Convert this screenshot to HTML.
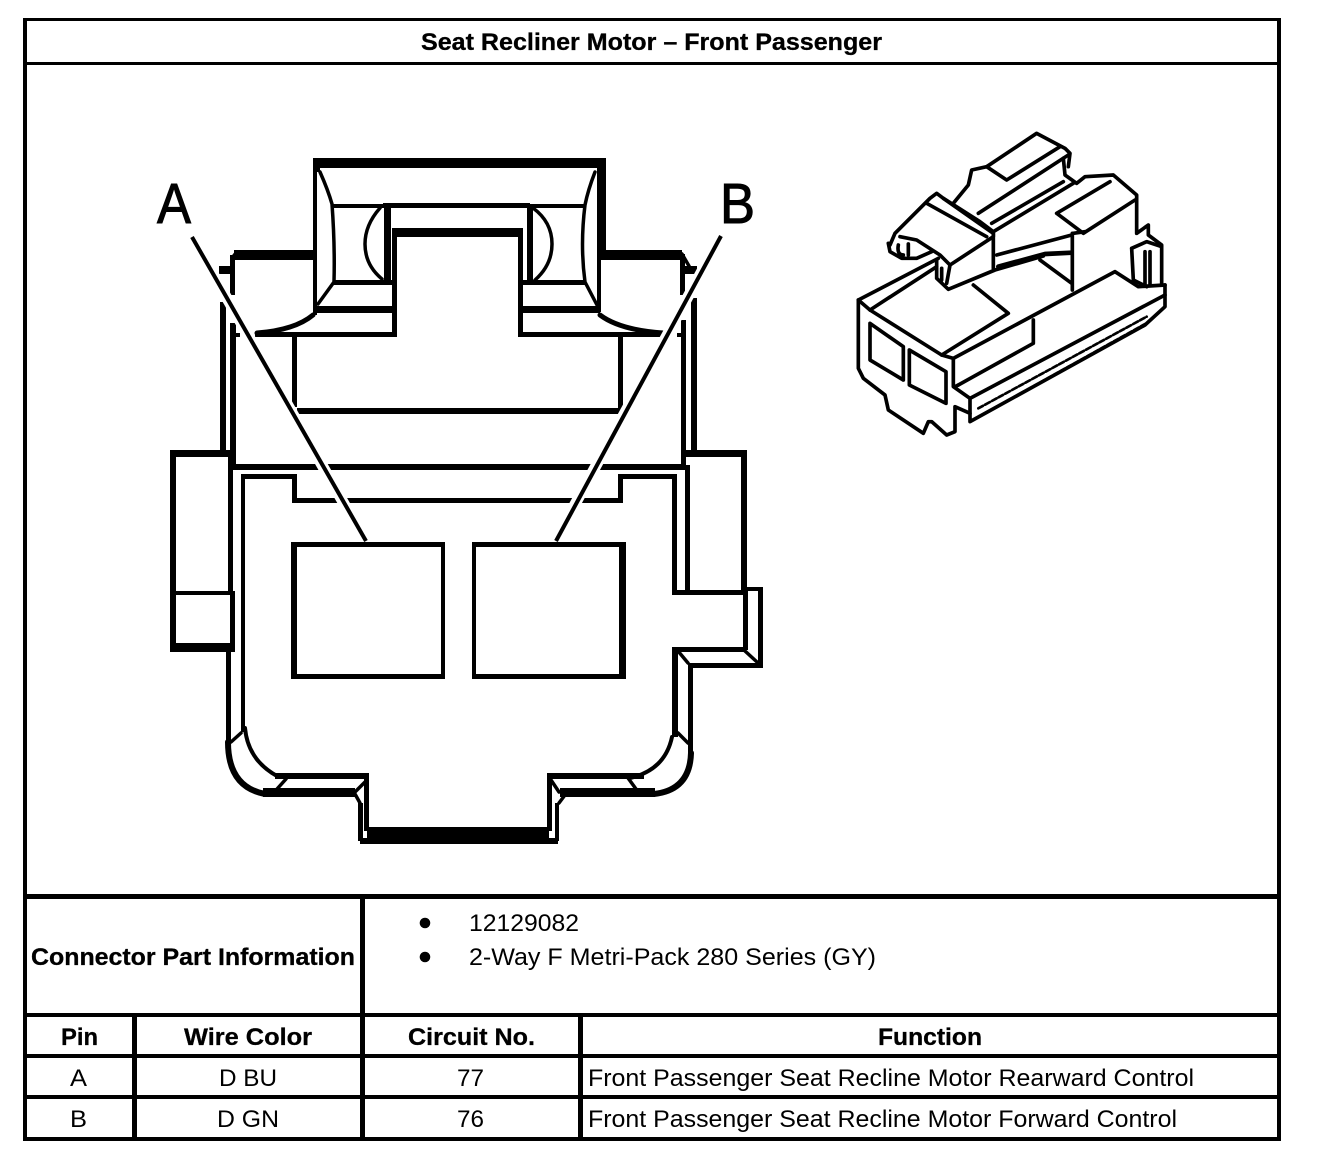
<!DOCTYPE html>
<html><head><meta charset="utf-8"><style>
html,body{margin:0;padding:0;background:#fff}
svg{display:block}
text{font-family:"Liberation Sans",Arial,sans-serif;fill:#000}
.b{font-weight:bold;stroke:#000;stroke-width:.3}
.t{font-size:24px}
</style></head><body>
<svg width="1328" height="1154" viewBox="0 0 1328 1154" xmlns="http://www.w3.org/2000/svg">
<rect width="1328" height="1154" fill="#fff"/>
<g fill="#000" shape-rendering="crispEdges">
<!-- frame -->
<rect x="23" y="18" width="1258" height="3"/>
<rect x="23" y="18" width="4" height="1123"/>
<rect x="1277" y="18" width="4" height="1123"/>
<rect x="23" y="62" width="1258" height="3"/>
<rect x="23" y="894" width="1258" height="5"/>
<rect x="23" y="1013" width="1258" height="4"/>
<rect x="23" y="1054" width="1258" height="4"/>
<rect x="23" y="1095" width="1258" height="4"/>
<rect x="23" y="1137" width="1258" height="4"/>
<rect x="360" y="894" width="5" height="247"/>
<rect x="132" y="1013" width="5" height="128"/>
<rect x="578" y="1013" width="5" height="128"/>
<!-- main connector rects -->
<rect x="313" y="158" width="293" height="10"/>
<rect x="313" y="158" width="7" height="14"/>
<rect x="313" y="158" width="4" height="157"/>
<rect x="597" y="158" width="9" height="92"/>
<rect x="597" y="250" width="4" height="62"/>
<rect x="383" y="203" width="147" height="4"/>
<rect x="332" y="204" width="253" height="4"/>
<rect x="384" y="205" width="7" height="75"/>
<rect x="527" y="205" width="6" height="75"/>
<rect x="393" y="228" width="129" height="9"/>
<rect x="392" y="228" width="5" height="109"/>
<rect x="518" y="228" width="5" height="109"/>
<rect x="333" y="280" width="60" height="5"/>
<rect x="523" y="280" width="62" height="5"/>
<rect x="317" y="306" width="78" height="7"/>
<rect x="523" y="306" width="77" height="7"/>
<rect x="255" y="332" width="140" height="5"/>
<rect x="518" y="332" width="145" height="5"/>
<rect x="292" y="337" width="5" height="70"/>
<rect x="618" y="337" width="5" height="71"/>
<rect x="297" y="408" width="325" height="6"/>
<rect x="234" y="250" width="79" height="10"/>
<rect x="230" y="255" width="5" height="40"/>
<rect x="600" y="250" width="82" height="10"/>
<rect x="680" y="254" width="5" height="41"/>
<rect x="219" y="266" width="12" height="8"/>
<rect x="684" y="266" width="13" height="8"/>
<rect x="220" y="302" width="6" height="148"/>
<rect x="691" y="298" width="6" height="152"/>
<rect x="230" y="323" width="6" height="145"/>
<rect x="230" y="333" width="10" height="4"/>
<rect x="681" y="320" width="5" height="150"/>
<rect x="677" y="333" width="6" height="4"/>
<rect x="170" y="450" width="60" height="7"/>
<rect x="170" y="450" width="6" height="202"/>
<rect x="684" y="450" width="63" height="7"/>
<rect x="741" y="450" width="6" height="142"/>
<rect x="228" y="450" width="5" height="142"/>
<rect x="232" y="464" width="452" height="6"/>
<rect x="241" y="474" width="52" height="5"/>
<rect x="241" y="474" width="4" height="258"/>
<rect x="292" y="474" width="5" height="28"/>
<rect x="292" y="498" width="331" height="5"/>
<rect x="618" y="474" width="5" height="28"/>
<rect x="623" y="474" width="54" height="5"/>
<rect x="672" y="474" width="5" height="120"/>
<rect x="685" y="465" width="5" height="129"/>
<rect x="170" y="591" width="65" height="4"/>
<rect x="230" y="592" width="5" height="58"/>
<rect x="170" y="643" width="65" height="9"/>
<rect x="226" y="650" width="5" height="92"/>
<rect x="672" y="590" width="72" height="5"/>
<rect x="741" y="587" width="22" height="4"/>
<rect x="758" y="587" width="5" height="81"/>
<rect x="743" y="590" width="5" height="60"/>
<rect x="672" y="647" width="73" height="5"/>
<rect x="688" y="663" width="75" height="5"/>
<rect x="672" y="647" width="6" height="90"/>
<rect x="688" y="663" width="5" height="92"/>
<rect x="275" y="773" width="94" height="6"/>
<rect x="547" y="773" width="97" height="6"/>
<rect x="263" y="788" width="92" height="9"/>
<rect x="560" y="788" width="95" height="9"/>
<rect x="364" y="773" width="5" height="58"/>
<rect x="547" y="773" width="5" height="58"/>
<rect x="358" y="803" width="5" height="38"/>
<rect x="555" y="803" width="4" height="38"/>
<rect x="367" y="827" width="182" height="17"/>
<rect x="360" y="838" width="198" height="6"/>
<!-- terminals -->
<rect x="291" y="542" width="154" height="5"/>
<rect x="291" y="674" width="154" height="5"/>
<rect x="291" y="542" width="6" height="137"/>
<rect x="441" y="542" width="4" height="137"/>
<rect x="472" y="542" width="154" height="5"/>
<rect x="472" y="674" width="154" height="5"/>
<rect x="472" y="542" width="4" height="137"/>
<rect x="619" y="542" width="7" height="137"/>
</g>
<g fill="none" stroke="#000" stroke-width="3.5" stroke-linejoin="round" stroke-linecap="round">
<path d="M320 172 Q328 190 332 204 Q335 245 334 282 L318 304"/>
<path d="M595 172 Q588 190 585 205 Q580 245 585 282 L597 305"/>
<path d="M380 208 Q365 225 365 244 Q365 265 382 279"/>
<path d="M533 208 Q552 222 552 244 Q552 265 535 280"/>
<path d="M313 315 Q295 330 257 333" stroke-width="5"/>
<path d="M600 315 Q620 330 663 333" stroke-width="5"/>
<path d="M232 258 L236 253 M682 254 L689 266"/>
<path d="M241 733 L231 742"/>
<path d="M245 728 Q248 760 277 776" stroke-width="4"/>
<path d="M228 742 Q228 787 265 794" stroke-width="6"/>
<path d="M286 779 L277 789"/>
<path d="M355 792 L365 782 M355 794 L360 803"/>
<path d="M551 780 L559 792 M559 803 L565 795"/>
<path d="M678 733 L688 743"/>
<path d="M672 737 Q665 770 630 778" stroke-width="4"/>
<path d="M691 753 Q690 790 654 794" stroke-width="6"/>
<path d="M628 778 L636 789"/>
<path d="M745 651 L757 662 M678 651 L688 663"/>
</g>
<!-- leaders -->
<path d="M192 237 L359 530" stroke="#fff" stroke-width="11" fill="none"/>
<path d="M721 236 L561 530" stroke="#fff" stroke-width="11" fill="none"/>
<path d="M192 237 L366 541" stroke="#000" stroke-width="4" fill="none"/>
<path d="M721 236 L556 541" stroke="#000" stroke-width="4" fill="none"/>
<!-- iso connector -->
<g transform="translate(840 120) scale(.33333)" fill="none" stroke="#000" stroke-width="11" stroke-linejoin="round" stroke-linecap="round">
<path d="M55 540 L55 745 L70 775 L135 825 L145 870 L250 940 L265 905 L275 905 L320 945 L345 935 L345 860 L390 880 L390 905 L915 615 L975 560 L975 495"/>
<path d="M55 540 L295 415 M90 570 L290 440 M55 540 L90 570"/>
<path d="M90 570 L305 705 L505 580 L400 495"/>
<path d="M305 705 L340 715 L340 800 L390 835 L390 880"/>
<path d="M340 715 L825 455 L895 500 L975 495"/>
<path d="M355 795 L580 670 L580 600"/>
<path d="M390 835 L975 525 M345 800 L355 795"/>
<path d="M415 865 L920 590" stroke-dasharray="16 7" stroke-width="8"/>
<path d="M420 888 L915 612" stroke-dasharray="16 7" stroke-width="8"/>
<path d="M90 610 L190 680 L190 780 L90 720 Z"/>
<path d="M208 690 L318 755 L318 850 L208 795 Z"/>
<path d="M150 375 L165 340 L270 235 L290 220 L310 235 L460 340 L460 350 L330 435"/>
<path d="M260 250 L440 350"/>
<path d="M145 370 L150 395 L185 415 L230 415 L275 395 M180 350 L230 360 L300 405 L330 435"/>
<path d="M175 375 Q170 405 190 405 M205 372 L205 405"/>
<path d="M290 420 L290 475 L325 508 L465 450 L610 408"/>
<path d="M305 445 L305 480 M330 435 L320 490"/>
<path d="M340 250 L385 195 L395 150 L440 140 L590 40 L675 85 L690 100 L685 140"/>
<path d="M440 140 L500 180 L660 80"/>
<path d="M415 280 L685 105"/>
<path d="M455 310 L670 185 M460 335 L700 190 M310 235 L420 305 L460 335"/>
<path d="M670 115 L675 165 L710 190 L735 170 L820 165 L890 225 L890 340 L925 315 L925 345 L965 375 L965 495"/>
<path d="M650 280 L730 340 L885 240 M650 280 L810 185"/>
<path d="M460 335 L460 445 M700 340 L735 335 M697 340 L697 510"/>
<path d="M470 405 L695 345"/>
<path d="M475 440 L615 402 L695 398" stroke-width="14"/>
<path d="M600 420 L695 490"/>
<path d="M875 385 L880 480 L920 500 M875 385 L920 365 L965 380 M915 395 L915 495 M930 395 L930 495"/>
</g>
<!-- bullets -->
<circle cx="425" cy="923" r="5.3"/>
<circle cx="425" cy="957" r="5.3"/>
<!-- diagram letters -->
<text x="157" y="223" font-size="57" textLength="34" lengthAdjust="spacingAndGlyphs" stroke="#000" stroke-width="1">A</text>
<text x="720" y="223" font-size="57" textLength="35" lengthAdjust="spacingAndGlyphs" stroke="#000" stroke-width="1">B</text>
<!-- text -->
<text class="b t" x="421" y="50" textLength="461" lengthAdjust="spacingAndGlyphs">Seat Recliner Motor – Front Passenger</text>
<text class="b t" x="31" y="965" textLength="324" lengthAdjust="spacingAndGlyphs">Connector Part Information</text>
<text class="t" x="469" y="931" textLength="110" lengthAdjust="spacingAndGlyphs">12129082</text>
<text class="t" x="469" y="965" textLength="407" lengthAdjust="spacingAndGlyphs">2-Way F Metri-Pack 280 Series (GY)</text>
<text class="b t" x="61" y="1045" textLength="37" lengthAdjust="spacingAndGlyphs">Pin</text>
<text class="b t" x="184" y="1045" textLength="128" lengthAdjust="spacingAndGlyphs">Wire Color</text>
<text class="b t" x="408" y="1045" textLength="127" lengthAdjust="spacingAndGlyphs">Circuit No.</text>
<text class="b t" x="878" y="1045" textLength="104" lengthAdjust="spacingAndGlyphs">Function</text>
<text class="t" x="70" y="1086" textLength="17" lengthAdjust="spacingAndGlyphs">A</text>
<text class="t" x="219" y="1086" textLength="58" lengthAdjust="spacingAndGlyphs">D BU</text>
<text class="t" x="457" y="1086" textLength="27" lengthAdjust="spacingAndGlyphs">77</text>
<text class="t" x="588" y="1086" textLength="606" lengthAdjust="spacingAndGlyphs">Front Passenger Seat Recline Motor Rearward Control</text>
<text class="t" x="70" y="1127" textLength="17" lengthAdjust="spacingAndGlyphs">B</text>
<text class="t" x="217" y="1127" textLength="62" lengthAdjust="spacingAndGlyphs">D GN</text>
<text class="t" x="457" y="1127" textLength="27" lengthAdjust="spacingAndGlyphs">76</text>
<text class="t" x="588" y="1127" textLength="589" lengthAdjust="spacingAndGlyphs">Front Passenger Seat Recline Motor Forward Control</text>
</svg>
</body></html>
